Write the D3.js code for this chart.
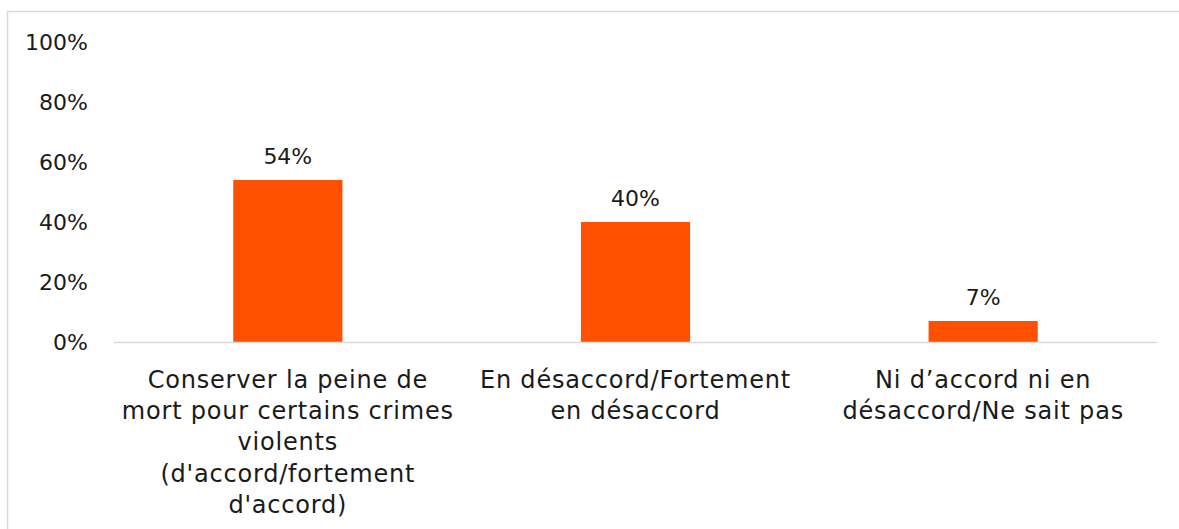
<!DOCTYPE html>
<html><head><meta charset="utf-8">
<script src="https://cdn.jsdelivr.net/npm/d3@7"></script>
<style>body{margin:0;background:#fff}svg text{font-family:"DejaVu Sans",sans-serif;fill:#1a1a1a}</style>
</head><body>
<svg id="c" width="1179" height="529"></svg>
<script>
const categories = [
  ["Conserver la peine de","mort pour certains crimes","violents","(d'accord/fortement","d'accord)"],
  ["En désaccord/Fortement","en désaccord"],
  ["Ni d’accord ni en","désaccord/Ne sait pas"]
];
const values = [54, 40, 7];
const valueLabels = ["54%","40%","7%"];
const yTicks = [0,20,40,60,80,100];

const svg = d3.select("#c");
svg.append("rect").attr("x",7.5).attr("y",11.5).attr("width",1200).attr("height",600)
  .attr("fill","none").attr("stroke","#d9d9d9").attr("stroke-width",1.5);

const x = d3.scaleBand().domain(d3.range(values.length)).range([114,1157]).padding(0);
const y = d3.scaleLinear().domain([0,100]).range([342,42]);
const barFrac = 0.314;
const bw = x.bandwidth()*barFrac;

const yAxis = d3.axisLeft(y).tickValues(yTicks).tickFormat(d=>d+"%").tickSize(0).tickPadding(0);
const ga = svg.append("g").attr("transform","translate(88,0)").call(yAxis);
ga.select(".domain").remove();
ga.selectAll("text").attr("font-size",22).attr("font-family","DejaVu Sans").attr("fill","#1a1a1a").attr("dy","0.36em");

svg.selectAll("rect.bar").data(values).join("rect").attr("class","bar")
  .attr("x",(d,i)=>x(i)+(x.bandwidth()-bw)/2).attr("width",bw)
  .attr("y",d=>y(d)).attr("height",d=>y(0)-y(d)).attr("fill","#FF5000");

svg.append("line").attr("x1",114).attr("x2",1157).attr("y1",y(0)+0.5).attr("y2",y(0)+0.5)
  .attr("stroke","#d9d9d9").attr("stroke-width",1.5);

svg.selectAll("text.vl").data(values).join("text").attr("class","vl")
  .attr("x",(d,i)=>x(i)+x.bandwidth()/2).attr("y",d=>y(d)-16)
  .attr("text-anchor","middle").attr("font-size",22).text((d,i)=>valueLabels[i]);

categories.forEach((lines,i)=>{
  const t = svg.append("text").attr("text-anchor","middle").attr("font-size",24).attr("letter-spacing",0.8);
  lines.forEach((l,j)=>{
    t.append("tspan").attr("x",x(i)+x.bandwidth()/2).attr("y",388+j*31.2).text(l);
  });
});
</script>
</body></html>
